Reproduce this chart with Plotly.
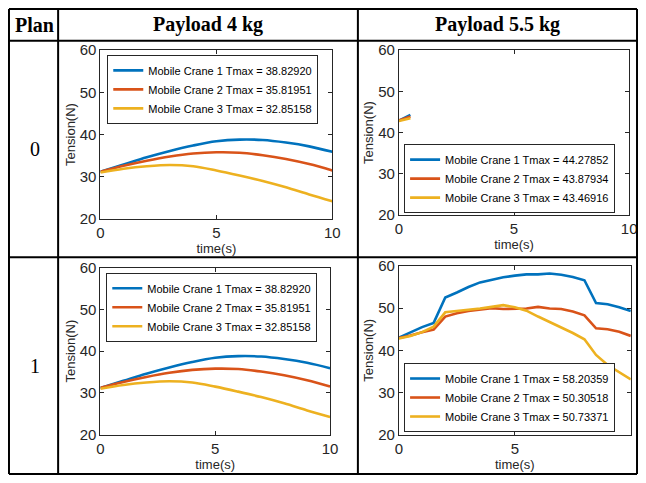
import plotly.graph_objects as go

# The page body keeps an 8px margin, so the figure is sized to fit inside the
# 646x483 window without overflow; reference pixel positions are mapped onto it.
W, H = 646, 483
FW, FH = W - 16, H - 16
REF_X0, REF_X1 = 4, 645
REF_Y0, REF_Y1 = 4, 482

# ---------------- data ----------------
t_smooth = [0, 1, 2, 3, 4, 5, 6, 7, 8, 9, 10]
p4_crane1 = [31.2, 32.9, 34.6, 36.1, 37.4, 38.4, 38.8, 38.7, 38.1, 37.2, 35.9]
p4_crane2 = [31.2, 32.6, 33.8, 34.8, 35.5, 35.8, 35.7, 35.1, 34.2, 33.0, 31.5]
p4_crane3 = [31.0, 31.9, 32.5, 32.8, 32.5, 31.5, 30.3, 29.0, 27.5, 25.8, 24.2]

t_short = [0, 0.5]
p55_plan0_crane1 = [42.9, 44.28]
p55_plan0_crane2 = [42.9, 43.88]
p55_plan0_crane3 = [42.8, 43.47]

t_step = [0, 0.5, 1, 1.5, 2, 2.5, 3, 3.5, 4, 4.5, 5, 5.5, 6, 6.5, 7, 7.5, 8, 8.5, 9, 9.5, 10]
p55_plan1_crane1 = [43.0, 44.2, 45.5, 46.5, 52.5, 53.7, 55.0, 56.1, 56.7, 57.3, 57.7, 58.0, 58.0, 58.2,
                    57.9, 57.4, 56.6, 51.2, 50.9, 50.2, 49.3]
p55_plan1_crane2 = [42.9, 43.5, 44.3, 44.9, 48.0, 48.8, 49.3, 49.6, 50.0, 49.8, 49.9, 49.9, 50.3, 49.9,
                    49.8, 49.2, 48.3, 45.2, 45.0, 44.4, 43.4]
p55_plan1_crane3 = [42.8, 43.4, 44.3, 45.6, 49.0, 49.3, 49.5, 49.9, 50.3, 50.7, 50.2, 49.4, 48.0, 46.7,
                    45.3, 44.1, 42.6, 38.9, 36.5, 34.7, 33.1]

legend_p4 = ["Mobile Crane 1 Tmax = 38.82920", "Mobile Crane 2 Tmax = 35.81951",
             "Mobile Crane 3 Tmax = 32.85158"]
legend_p55_0 = ["Mobile Crane 1 Tmax = 44.27852", "Mobile Crane 2 Tmax = 43.87934",
                "Mobile Crane 3 Tmax = 43.46916"]
legend_p55_1 = ["Mobile Crane 1 Tmax = 58.20359", "Mobile Crane 2 Tmax = 50.30518",
                "Mobile Crane 3 Tmax = 50.73371"]

col_headers = ["Plan", "Payload 4 kg", "Payload 5.5 kg"]
row_labels = ["0", "1"]
x_ticks = [0, 5, 10]
y_ticks = [20, 30, 40, 50, 60]

colors = ["#0072BD", "#D95319", "#EDB120"]


def px(x):
    return (x - REF_X0) / (REF_X1 - REF_X0)


def py(y):
    return 1 - (y - REF_Y0) / (REF_Y1 - REF_Y0)


fig = go.Figure()

panels = [
    ("", (98, 334), (47, 220), t_smooth, "spline", [p4_crane1, p4_crane2, p4_crane3], legend_p4,
     "legend", dict(x=px(105), y=py(52), xanchor="left", yanchor="top")),
    ("2", (401.7, 636), (47, 216), t_short, "linear",
     [p55_plan0_crane1, p55_plan0_crane2, p55_plan0_crane3],
     legend_p55_0, "legend2", dict(x=px(407), y=py(214), xanchor="left", yanchor="bottom")),
    ("3", (98, 331.7), (269.7, 440.7), t_smooth, "spline", [p4_crane1, p4_crane2, p4_crane3], legend_p4,
     "legend3", dict(x=px(104), y=py(275), xanchor="left", yanchor="top")),
    ("4", (401.7, 637.7), (268, 440.7), t_step, "linear",
     [p55_plan1_crane1, p55_plan1_crane2, p55_plan1_crane3],
     legend_p55_1, "legend4", dict(x=px(407), y=py(438), xanchor="left", yanchor="bottom")),
]

axis_color = "#262626"
font_fam = "Liberation Sans, Arial, sans-serif"

layout_updates = {}
for suf, xd, yd, t, shape, series, names, lg, lpos in panels:
    for s, n, c in zip(series, names, colors):
        fig.add_trace(go.Scatter(x=t, y=s, mode="lines", name=n,
                                 line=dict(color=c, width=2.6, shape=shape),
                                 xaxis="x" + suf, yaxis="y" + suf, legend=lg, showlegend=True))
    layout_updates["xaxis" + suf] = dict(
        domain=[px(xd[0]), px(xd[1])], range=[0, 10], tickvals=x_ticks, ticks="inside", ticklen=4,
        showline=True, mirror="ticks", linecolor=axis_color, linewidth=1, tickcolor=axis_color,
        showgrid=False, zeroline=False, anchor="y" + suf, automargin=False,
        tickfont=dict(size=15, color=axis_color, family=font_fam),
        title=dict(text="time(s)", font=dict(size=13, color=axis_color, family=font_fam), standoff=1),
    )
    layout_updates["yaxis" + suf] = dict(
        domain=[py(yd[1]), py(yd[0])], range=[20, 60], tickvals=y_ticks, ticks="inside", ticklen=4,
        showline=True, mirror="ticks", linecolor=axis_color, linewidth=1, tickcolor=axis_color,
        showgrid=False, zeroline=False, anchor="x" + suf, automargin=False,
        tickfont=dict(size=15, color=axis_color, family=font_fam),
        title=dict(text="Tension(N)", font=dict(size=13, color=axis_color, family=font_fam), standoff=1),
    )
    layout_updates[lg] = dict(
        bgcolor="white", bordercolor=axis_color, borderwidth=1, tracegroupgap=0, itemwidth=30,
        font=dict(size=11, color="#000000", family=font_fam), **lpos)

# table lines (reference pixel coordinates)
lines = [
    (5, 5, 644, 5), (5, 37.5, 644, 37.5), (5, 259, 644, 259), (5, 481, 644, 481),
    (5, 5, 5, 481), (55, 5, 55, 481), (360, 5, 360, 481), (644, 5, 644, 481),
]
shapes = [dict(type="line", xref="paper", yref="paper", x0=px(a), y0=py(b), x1=px(c), y1=py(d),
               line=dict(color="black", width=2)) for a, b, c, d in lines]

serif = "Liberation Serif, Times New Roman, serif"
annotations = []
for txt, cx in zip(col_headers, [31, 207.5, 502]):
    annotations.append(dict(text="<b>%s</b>" % txt, x=px(cx), y=py(21), xref="paper", yref="paper",
                            showarrow=False, xanchor="center", yanchor="middle",
                            font=dict(family=serif, size=20, color="black")))
for txt, cy in zip(row_labels, [148, 370]):
    annotations.append(dict(text=txt, x=px(31), y=py(cy), xref="paper", yref="paper",
                            showarrow=False, xanchor="center", yanchor="middle",
                            font=dict(family=serif, size=20, color="black")))

fig.update_layout(
    width=FW, height=FH, margin=dict(l=0, r=0, t=0, b=0, autoexpand=False),
    paper_bgcolor="white", plot_bgcolor="white",
    shapes=shapes, annotations=annotations,
    **layout_updates,
)

fig.write_html("out.html")
